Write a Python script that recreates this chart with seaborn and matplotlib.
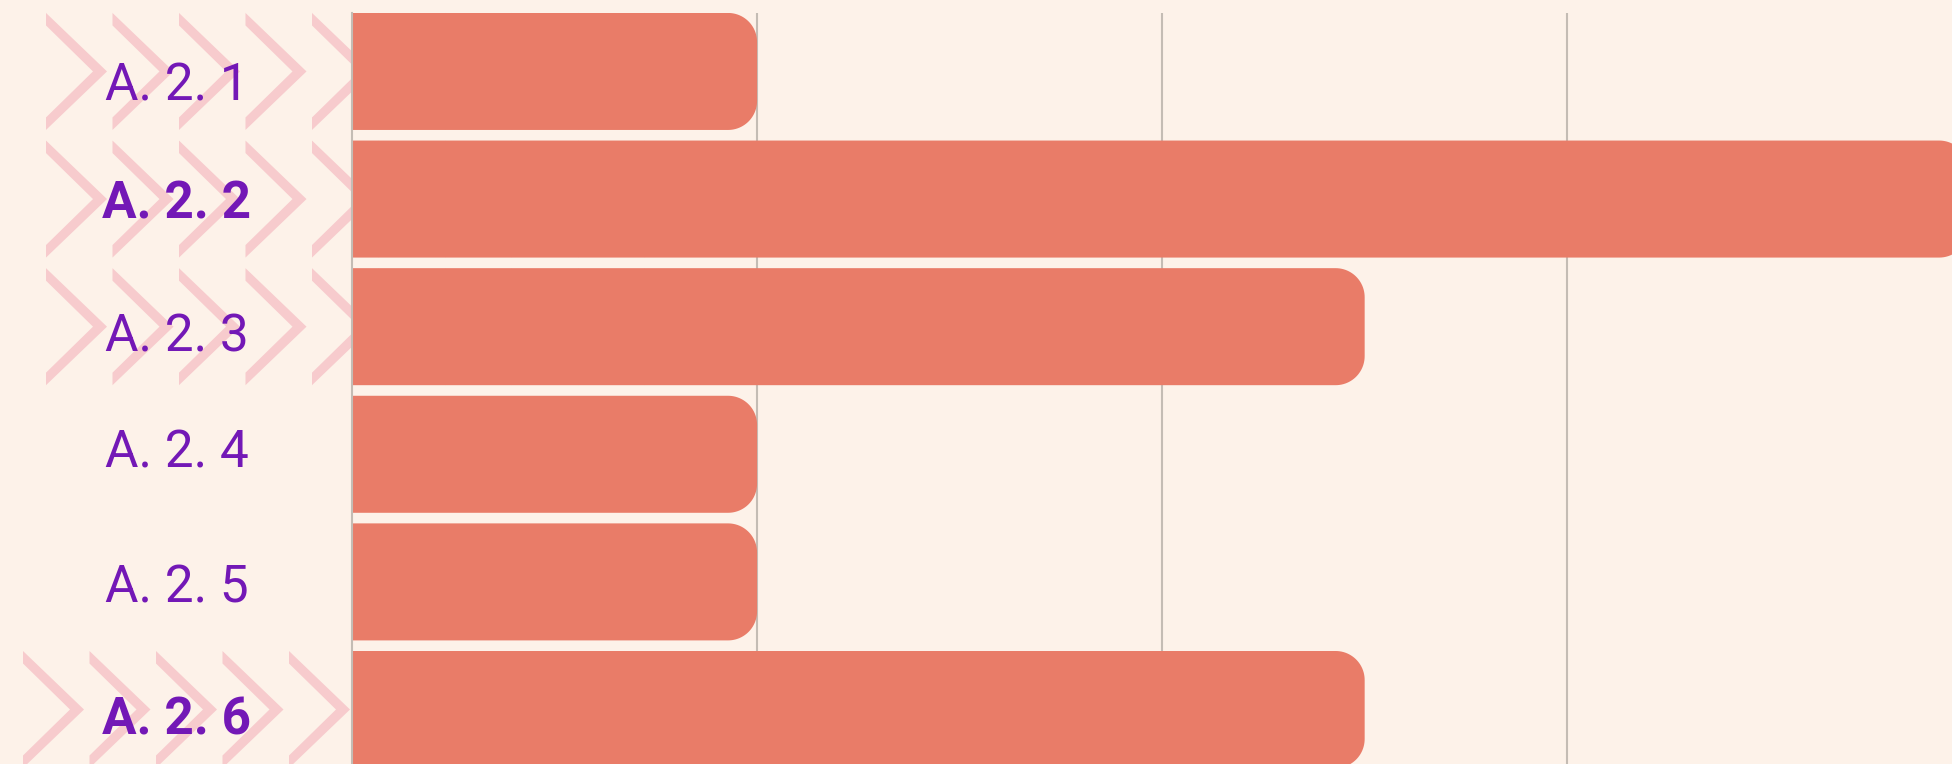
import matplotlib
matplotlib.use('Agg')
import numpy as np
import pandas as pd
import matplotlib.pyplot as plt
import matplotlib.transforms as mtransforms
from matplotlib.patches import Polygon
import seaborn as sns

# data
labels = ['A. 2. 1', 'A. 2. 2', 'A. 2. 3', 'A. 2. 4', 'A. 2. 5', 'A. 2. 6']
values = [10, 39.9, 25, 10, 10, 25]
bold_rows = ['A. 2. 2', 'A. 2. 6']
grid_ticks = [10, 20, 30]

# rows with the chevron band behind them -> left start of first chevron (px)
chevron_rows = {'A. 2. 1': 46, 'A. 2. 2': 46, 'A. 2. 3': 46, 'A. 2. 6': 23}
label_nudge = [10, 0, 5, -6, 1.5, 5]  # px, downwards

bg = '#FDF2E9'
bar_color = '#E97C68'
chev_color = '#F7CBCD'
purple = '#7318B6'
grid_color = '#C4BCB4'

sns.set_theme(style='white', rc={'axes.facecolor': bg, 'figure.facecolor': bg})
plt.rcParams['font.family'] = ['Roboto', 'DejaVu Sans']

W, H = 1952, 764
fig = plt.figure(figsize=(W / 100, H / 100), dpi=100, facecolor=bg)
ax = fig.add_axes([352 / W, 0, 1 - 352 / W, 1 - 13 / H])
ax.set_facecolor('none')

df = pd.DataFrame({'label': labels, 'value': values})
sns.barplot(data=df, x='value', y='label', color=bar_color, saturation=1,
            width=0.917, ax=ax, zorder=3)

ax.set_xlim(0, 39.5)
ax.set_ylim(5.427, -0.458)

# pixels per data unit
ppu_x = ax.bbox.width / 39.5
ppu_y = ax.bbox.height / (5.427 + 0.458)

# rounded right ends on the bars (circular in pixels)
r_px = 29
rx, ry = r_px / ppu_x, r_px / ppu_y
t = np.linspace(0, np.pi / 2, 24)
for p in list(ax.patches):
    x0, y0 = p.get_x(), p.get_y()
    x1, y1 = x0 + p.get_width(), y0 + p.get_height()
    ytop, ybot = min(y0, y1), max(y0, y1)
    cx = x1 - rx
    top_arc = [(cx + rx * np.sin(a), ytop + ry - ry * np.cos(a)) for a in t]
    bot_arc = [(cx + rx * np.cos(a), ybot - ry + ry * np.sin(a)) for a in t]
    pts = [(x0, ytop)] + top_arc + bot_arc + [(x0, ybot)]
    ax.add_patch(Polygon(pts, closed=True, fc=bar_color, ec='none', zorder=3))
    p.remove()

# chevron bands
trans = mtransforms.blended_transform_factory(mtransforms.IdentityTransform(), ax.transData)
ho, hi = 58.5 / ppu_y, 46 / ppu_y
for i, lab in enumerate(labels):
    if lab not in chevron_rows:
        continue
    start = chevron_rows[lab]
    for k in range(10):
        xs = start + k * 66.5
        pts = [(xs, i - ho), (xs + 61, i), (xs, i + ho),
               (xs, i + hi), (xs + 47, i), (xs, i - hi)]
        ax.add_patch(Polygon(pts, closed=True, transform=trans, fc=chev_color,
                             ec='none', clip_on=False, zorder=0.5))

# grid and spines
ax.set_xticks(grid_ticks)
ax.set_xticklabels([])
ax.grid(axis='x', color=grid_color, lw=1.5, zorder=1)
ax.grid(axis='y', visible=False)
ax.set_axisbelow(True)
for s in ['top', 'right', 'bottom']:
    ax.spines[s].set_visible(False)
ax.spines['left'].set_color(grid_color)
ax.spines['left'].set_linewidth(1.5)
ax.spines['left'].set_zorder(4)
ax.set_xlabel('')
ax.set_ylabel('')

ax.tick_params(axis='y', length=0, pad=126)
ax.tick_params(axis='x', length=0)
for lbl, nud in zip(ax.get_yticklabels(), label_nudge):
    lbl.set_ha('center')
    lbl.set_fontsize(37)
    lbl.set_color(purple)
    lbl.set_fontweight('bold' if lbl.get_text() in bold_rows else 'normal')
    lbl.set_transform(lbl.get_transform() +
                      mtransforms.ScaledTranslation(0, -nud / 100, fig.dpi_scale_trans))

fig.savefig('out.png', dpi=100, facecolor=bg)
